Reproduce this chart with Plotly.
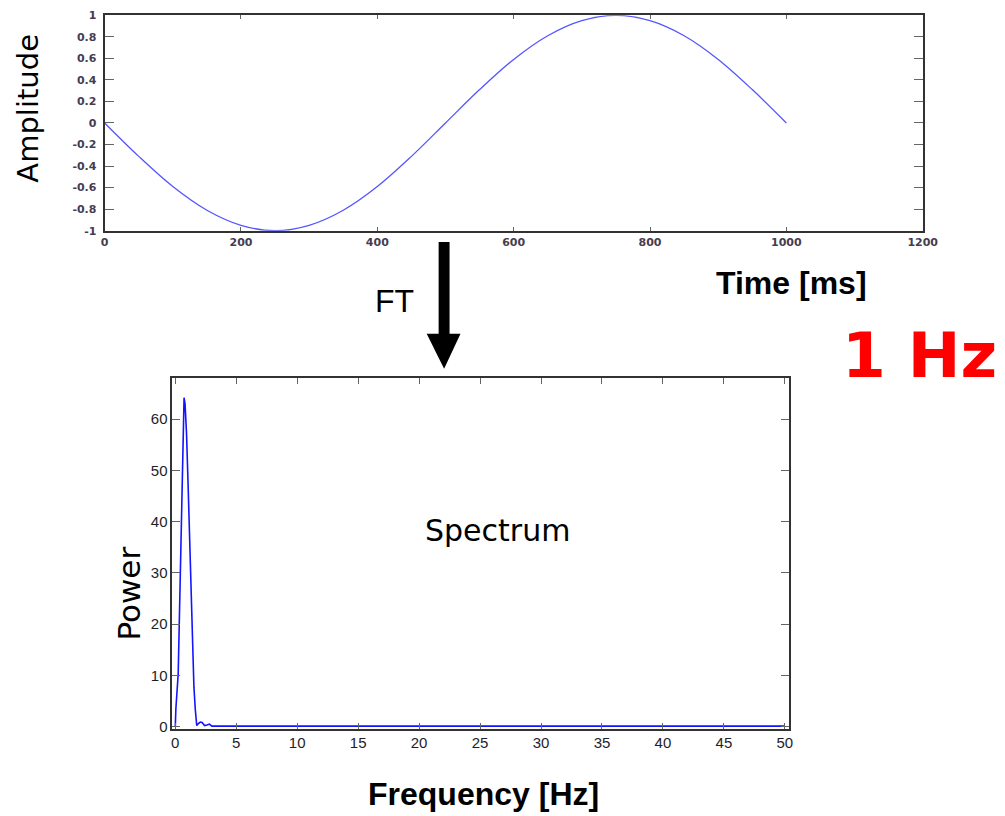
import plotly.graph_objects as go

# ---- data ----
time_ms = [0, 50, 100, 150, 200, 250, 300, 350, 400, 450, 500,
           550, 600, 650, 700, 750, 800, 850, 900, 950, 1000]
amplitude = [0.0, -0.31, -0.59, -0.81, -0.95, -1.0, -0.95, -0.81, -0.59, -0.31, 0.0,
             0.31, 0.59, 0.81, 0.95, 1.0, 0.95, 0.81, 0.59, 0.31, 0.0]

freq_hz = [0.00, 0.05, 0.24, 0.33, 0.47, 0.58, 0.64, 0.72, 0.80, 0.92, 1.05, 1.18,
           1.30, 1.42, 1.53, 1.64, 1.76, 1.90, 2.05, 2.20, 2.40, 2.60, 2.80, 3.00,
           3.30, 50.0]
power = [0.0, 3.6, 10.3, 21.0, 35.3, 48.0, 58.4, 64.2, 63.0, 57.4, 47.3, 36.3,
         24.6, 15.1, 7.7, 3.4, 0.2, 0.6, 0.9, 0.8, 0.2, 0.3, 0.5, 0.1,
         0.1, 0.1]

time_ticks = [0, 200, 400, 600, 800, 1000, 1200]
amp_ticks = [-1, -0.8, -0.6, -0.4, -0.2, 0, 0.2, 0.4, 0.6, 0.8, 1]
amp_tick_text = ["-1", "-0.8", "-0.6", "-0.4", "-0.2", "0", "0.2", "0.4", "0.6", "0.8", "1"]
freq_ticks = [0, 5, 10, 15, 20, 25, 30, 35, 40, 45, 50]
power_ticks = [0, 10, 20, 30, 40, 50, 60]

W, H = 1005, 816
# empirical page-to-photo mapping compensation
OX, SX = 11.8, 0.986
OY, SY = 12.2, 0.987
def px(x):
    return ((x - OX) / SX) / W
def py(y):
    return 1 - ((y - OY) / SY) / H

FONT = "Liberation Sans, Arial, sans-serif"
WIDE = "DejaVu Sans, sans-serif"

fig = go.Figure()
fig.add_trace(go.Scatter(x=time_ms, y=amplitude, mode="lines", line=dict(color="rgb(85,85,255)", width=1.3, shape="spline"),
                         xaxis="x", yaxis="y", showlegend=False, hoverinfo="skip"))
fig.add_trace(go.Scatter(x=freq_hz, y=power, mode="lines", line=dict(color="rgb(20,20,255)", width=1.6),
                         xaxis="x2", yaxis="y2", showlegend=False, hoverinfo="skip"))

axis_common = dict(showgrid=False, zeroline=False, showline=True, mirror="ticks",
                   linecolor="rgb(50,50,50)", ticks="inside",
                   tickcolor="rgb(100,100,100)", ticklabeloverflow="allow")

fig.update_layout(
    width=W, height=H,
    margin=dict(l=0, r=0, t=0, b=0),
    paper_bgcolor="white", plot_bgcolor="white",
    font=dict(family=FONT, color="black"),
    xaxis=dict(domain=[px(105), px(928)], range=[0, 1200], tickvals=time_ticks,
               ticklen=4, linewidth=2, tickfont=dict(family=WIDE, size=11, color="rgb(70,60,80)", weight="bold"),
               anchor="y", **axis_common),
    yaxis=dict(domain=[py(229.5), py(13.5)], range=[-1, 1], tickvals=amp_ticks, ticktext=amp_tick_text,
               ticklen=9, linewidth=2, ticklabelstandoff=4,
               tickfont=dict(family=WIDE, size=11, color="rgb(70,60,80)", weight="bold"),
               anchor="x", **axis_common),
    xaxis2=dict(domain=[px(173), px(793)], range=[-0.25, 50.3], tickvals=freq_ticks,
                ticklen=6, linewidth=1.5, tickfont=dict(size=15, color="rgb(30,30,40)"),
                anchor="y2", **axis_common),
    yaxis2=dict(domain=[py(729), py(377.5)], range=[-0.4, 68], tickvals=power_ticks,
                ticklen=8, linewidth=1.5, tickfont=dict(size=15, color="rgb(30,30,40)"),
                anchor="x2", **axis_common),
)

annots = [
    dict(text="Amplitude", x=px(27), y=py(107), textangle=-90, font=dict(family=WIDE, size=29)),
    dict(text="Time [ms]", x=px(796), y=py(282), font=dict(size=32, weight="bold")),
    dict(text="FT", x=px(397), y=py(300), font=dict(size=32)),
    dict(text="1 Hz", x=px(925), y=py(355), font=dict(family=WIDE, size=63, color="rgb(255,0,0)", weight="bold")),
    dict(text="Spectrum", x=px(500), y=py(530), font=dict(family=WIDE, size=30)),
    dict(text="Power", x=px(130), y=py(593), textangle=-90, font=dict(family=WIDE, size=31)),
    dict(text="Frequency [Hz]", x=px(486), y=py(795), font=dict(size=32, weight="bold")),
]
for a in annots:
    fig.add_annotation(xref="paper", yref="paper", showarrow=False, xanchor="center", yanchor="middle", **a)

# FT arrow
fig.add_shape(type="rect", xref="paper", yref="paper", x0=px(441), x1=px(452), y0=py(336), y1=py(241),
              fillcolor="black", line=dict(width=0))
fig.add_shape(type="path", xref="paper", yref="paper",
              path=f"M {px(429)} {py(333)} L {px(463)} {py(333)} L {px(446.5)} {py(368)} Z",
              fillcolor="black", line=dict(width=0))

fig.write_html("out.html")
